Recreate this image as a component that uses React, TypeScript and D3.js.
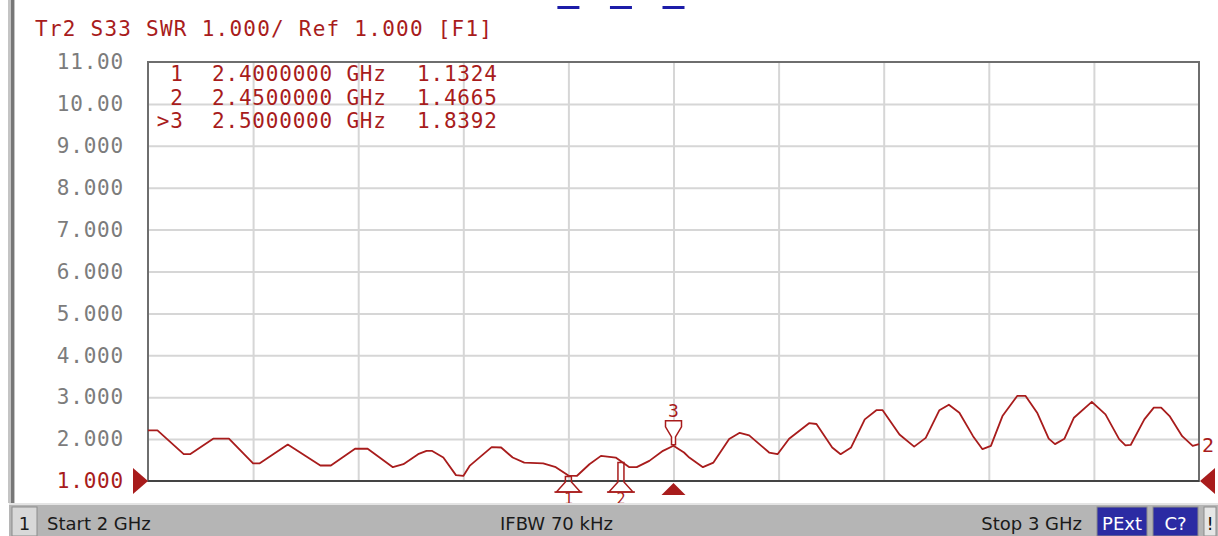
import React, { useEffect, useRef } from "react";
import * as d3 from "d3";

// trace (GHz, SWR)
const freqGHz = [
  2.0, 2.009, 2.034, 2.04, 2.062, 2.077, 2.1, 2.106, 2.133, 2.164, 2.174, 2.197,
  2.209, 2.233, 2.243, 2.257, 2.265, 2.27, 2.281, 2.293, 2.3, 2.306, 2.327, 2.336,
  2.347, 2.358, 2.376, 2.388, 2.4, 2.408, 2.42, 2.431, 2.445, 2.45, 2.458, 2.465,
  2.477, 2.49, 2.5, 2.51, 2.515, 2.528, 2.538, 2.553, 2.563, 2.572, 2.591, 2.599,
  2.61, 2.629, 2.636, 2.651, 2.659, 2.669, 2.682, 2.693, 2.699, 2.715, 2.729, 2.74,
  2.753, 2.762, 2.772, 2.785, 2.794, 2.802, 2.813, 2.827, 2.835, 2.846, 2.857, 2.863,
  2.872, 2.881, 2.898, 2.911, 2.924, 2.93, 2.935, 2.948, 2.957, 2.964, 2.972, 2.984,
  2.994, 3.0,
];
const swrValues = [
  2.21, 2.21, 1.64, 1.64, 2.01, 2.01, 1.42, 1.42, 1.87, 1.37, 1.37, 1.77,
  1.77, 1.33, 1.4, 1.64, 1.72, 1.72, 1.56, 1.14, 1.12, 1.36, 1.81, 1.8,
  1.56, 1.44, 1.42, 1.33, 1.13, 1.12, 1.4, 1.6, 1.56, 1.47, 1.33, 1.33,
  1.48, 1.72, 1.84, 1.68, 1.56, 1.33, 1.44, 2.0, 2.15, 2.09, 1.68, 1.64,
  2.01, 2.38, 2.36, 1.8, 1.64, 1.8, 2.47, 2.69, 2.69, 2.11, 1.82, 2.03,
  2.69, 2.82, 2.63, 2.07, 1.76, 1.84, 2.55, 3.03, 3.03, 2.63, 2.01, 1.88,
  2.01, 2.51, 2.89, 2.59, 2.0, 1.85, 1.86, 2.47, 2.75, 2.75, 2.55, 2.07,
  1.84, 1.88,
];

const yTicks = [11, 10, 9, 8, 7, 6, 5, 4, 3, 2, 1];
const yTickLabels = ["11.00", "10.00", "9.000", "8.000", "7.000", "6.000", "5.000", "4.000", "3.000", "2.000", "1.000"];

const markerIds = ["1", "2", "3"];
const markerFreqs = [2.4, 2.45, 2.5];
const markerSwr = [1.1324, 1.4665, 1.8392];
const activeMarker = "3";

const titleText = "Tr2 S33 SWR 1.000/ Ref 1.000 [F1]";
const traceLabel = "2";

const RED = "#a81c1c";
const MONO = "'DejaVu Sans Mono', monospace";
const SANS = "'DejaVu Sans', sans-serif";

const App = () => {
  const visualRef = useRef(null);

  useEffect(() => {
    const left = 148;
    const right = 1199;
    const top = 62;
    const bottom = 481;

    const svg = d3.select(visualRef.current);
    svg.selectAll("*").remove();

    const x = d3.scaleLinear().domain([2, 3]).range([left, right]);
    const y = d3.scaleLinear().domain([1, 11]).range([bottom, top]);

    svg.append("rect").attr("width", 1218).attr("height", 536).attr("fill", "#fff");

    // left window edge
    svg.append("rect").attr("x", 8).attr("y", 0).attr("width", 7).attr("height", 503).attr("fill", "#c4c4c4");
    svg.append("rect").attr("x", 11).attr("y", 0).attr("width", 3).attr("height", 503).attr("fill", "#777");

    // title
    svg
      .append("text")
      .attr("x", 35)
      .attr("y", 36)
      .attr("textLength", 457)
      .attr("lengthAdjust", "spacing")
      .attr("font-family", MONO)
      .attr("font-size", 21)
      .attr("fill", RED)
      .text(titleText);

    // grid
    const gy = svg
      .append("g")
      .attr("transform", `translate(${left},0)`)
      .call(d3.axisLeft(y).tickValues(yTicks.slice(1, -1)).tickSize(-(right - left)).tickFormat(() => ""));
    gy.select(".domain").remove();
    gy.selectAll("line").attr("stroke", "#d6d6d6").attr("stroke-width", 2);

    const gx = svg
      .append("g")
      .attr("transform", `translate(0,${bottom})`)
      .call(d3.axisBottom(x).ticks(10).tickSize(-(bottom - top)).tickFormat(() => ""));
    gx.select(".domain").remove();
    gx.selectAll(".tick").filter((d) => d === 2 || d === 3).remove();
    gx.selectAll("line").attr("stroke", "#d6d6d6").attr("stroke-width", 2);

    // frame
    svg
      .append("rect")
      .attr("x", left)
      .attr("y", top)
      .attr("width", right - left)
      .attr("height", bottom - top)
      .attr("fill", "none")
      .attr("stroke", "#6e6e6e")
      .attr("stroke-width", 2);
    svg
      .append("line")
      .attr("x1", left)
      .attr("x2", right)
      .attr("y1", bottom)
      .attr("y2", bottom)
      .attr("stroke", "#444")
      .attr("stroke-width", 2);

    // y labels
    const labels = svg
      .append("g")
      .attr("transform", `translate(${left},0)`)
      .call(
        d3
          .axisLeft(y)
          .tickValues(yTicks)
          .tickSize(0)
          .tickPadding(24)
          .tickFormat((d, i) => yTickLabels[i])
      );
    labels.select(".domain").remove();
    labels
      .selectAll("text")
      .attr("font-family", MONO)
      .attr("font-size", 21)
      .attr("letter-spacing", 0.8)
      .attr("fill", (d) => (d === 1 ? RED : "#7c7c7c"));

    // reference triangles
    svg
      .append("path")
      .attr("d", `M${left - 15},${y(1) - 13}L${left},${y(1)}L${left - 15},${y(1) + 13}Z`)
      .attr("fill", RED);
    svg
      .append("path")
      .attr("d", `M${right + 16},${y(1) - 13}L${right + 1},${y(1)}L${right + 16},${y(1) + 13}Z`)
      .attr("fill", RED);

    // marker readout
    const rows = svg.append("g").attr("font-family", MONO).attr("font-size", 21).attr("fill", RED);
    markerIds.forEach((id, i) => {
      const by = 81 + i * 23.5;
      rows
        .append("text")
        .attr("x", 184)
        .attr("y", by)
        .attr("text-anchor", "end")
        .attr("letter-spacing", 1)
        .text((id === activeMarker ? ">" : "") + id);
      rows.append("text").attr("x", 212).attr("y", by).attr("letter-spacing", 0.8).text(markerFreqs[i].toFixed(7) + " GHz");
      rows.append("text").attr("x", 417).attr("y", by).attr("letter-spacing", 0.8).text(markerSwr[i].toFixed(4));
    });

    // trace
    const data = freqGHz.map((f, i) => [f, swrValues[i]]);
    const line = d3
      .line()
      .x((d) => x(d[0]))
      .y((d) => y(d[1]))
      .curve(d3.curveLinear);
    svg
      .append("path")
      .datum(data)
      .attr("d", line)
      .attr("fill", "none")
      .attr("stroke", RED)
      .attr("stroke-width", 1.8)
      .attr("stroke-linejoin", "round");

    svg
      .append("text")
      .attr("x", right + 3)
      .attr("y", y(swrValues[swrValues.length - 1]) + 8)
      .attr("font-family", MONO)
      .attr("font-size", 20)
      .attr("fill", RED)
      .text(traceLabel);

    // markers
    const mk = svg.append("g");
    markerIds.forEach((id, i) => {
      const px = x(markerFreqs[i]);
      const py = y(markerSwr[i]);
      svg
        .append("rect")
        .attr("x", px - 11)
        .attr("y", 6)
        .attr("width", 22)
        .attr("height", 3)
        .attr("fill", "#1c1ca8");
      if (id === activeMarker) {
        mk.append("path")
          .attr("d", `M${px - 8},${py - 25}h16v6l-6,10v8h-4v-8l-6,-10Z`)
          .attr("fill", "#fff")
          .attr("stroke", RED)
          .attr("stroke-width", 1.5);
        mk.append("text")
          .attr("x", px)
          .attr("y", py - 29)
          .attr("text-anchor", "middle")
          .attr("font-family", MONO)
          .attr("font-size", 18)
          .attr("fill", RED)
          .text(id);
        mk.append("path")
          .attr("d", `M${px},${bottom + 2}l12,12h-24Z`)
          .attr("fill", RED);
      } else {
        mk.append("path")
          .attr("d", `M${px - 3},${py + 1}h6V${bottom + 1}l9,10h-24l9,-10Z`)
          .attr("fill", "none")
          .attr("stroke", RED)
          .attr("stroke-width", 1.5);
        mk.append("line")
          .attr("x1", px - 14)
          .attr("x2", px + 14)
          .attr("y1", bottom + 11)
          .attr("y2", bottom + 11)
          .attr("stroke", RED)
          .attr("stroke-width", 1.5);
        mk.append("text")
          .attr("x", px)
          .attr("y", 504)
          .attr("text-anchor", "middle")
          .attr("font-family", MONO)
          .attr("font-size", 15)
          .attr("fill", RED)
          .text(id);
      }
    });

    // status bar
    const sb = svg.append("g").attr("font-family", SANS).attr("font-size", 18).attr("fill", "#1a1a1a");
    sb.append("rect").attr("x", 9).attr("y", 503).attr("width", 1209).attr("height", 33).attr("fill", "#b5b5b5");
    sb.append("rect").attr("x", 9).attr("y", 503).attr("width", 1209).attr("height", 2).attr("fill", "#e4e4e4");
    sb.append("rect")
      .attr("x", 12)
      .attr("y", 507)
      .attr("width", 25)
      .attr("height", 29)
      .attr("fill", "#d8d8d8")
      .attr("stroke", "#8c8c8c");
    sb.append("text").attr("x", 24.5).attr("y", 530).attr("text-anchor", "middle").text("1");
    sb.append("text").attr("x", 47).attr("y", 530).text("Start 2 GHz");
    sb.append("text").attr("x", 500).attr("y", 530).text("IFBW 70 kHz");
    sb.append("text").attr("x", 1082).attr("y", 530).attr("text-anchor", "end").text("Stop 3 GHz");

    const boxes = [
      { label: "PExt", x0: 1097, w: 50, fill: "#2b2ba3", color: "#fff" },
      { label: "C?", x0: 1153, w: 45, fill: "#2b2ba3", color: "#fff" },
      { label: "!", x0: 1204, w: 12, fill: "#e6e6e6", color: "#111" },
    ];
    boxes.forEach((b) => {
      sb.append("rect")
        .attr("x", b.x0)
        .attr("y", 507)
        .attr("width", b.w)
        .attr("height", 29)
        .attr("fill", b.fill)
        .attr("stroke", "#8c8c8c");
      sb.append("text")
        .attr("x", b.x0 + b.w / 2)
        .attr("y", 530)
        .attr("text-anchor", "middle")
        .attr("fill", b.color)
        .text(b.label);
    });
  }, []);

  return (
    <svg
      ref={visualRef}
      width={1218}
      height={536}
      style={{ position: "absolute", left: 0, top: 0, display: "block" }}
    />
  );
};

export default App;
